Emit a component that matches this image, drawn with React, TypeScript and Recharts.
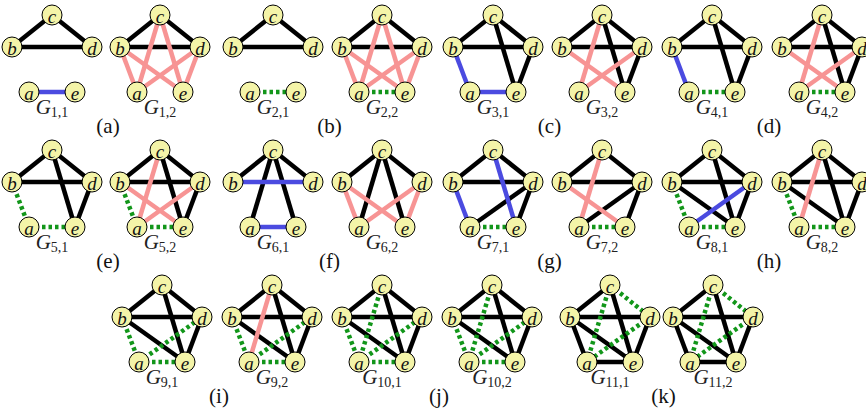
import { ScatterChart, Scatter, XAxis, YAxis } from "recharts";

// graph names, in reading order
const graphIds = [
  "1,1", "1,2", "2,1", "2,2", "3,1", "3,2", "4,1", "4,2",
  "5,1", "5,2", "6,1", "6,2", "7,1", "7,2", "8,1", "8,2",
  "9,1", "9,2", "10,1", "10,2", "11,1", "11,2",
];

const captions = ["(a)", "(b)", "(c)", "(d)", "(e)", "(f)", "(g)", "(h)", "(i)", "(j)", "(k)"];

const nodeNames = ["a", "b", "c", "d", "e"];

// edges per graph, by colour
const blackEdges = [
  "bc cd bd", "bc cd bd", "bc cd bd", "bc cd bd",
  "bc cd bd ce de", "bc cd bd ce de", "bc cd bd ce de", "bc cd bd ce de",
  "bc cd bd ce de", "bc cd bd ce de", "bc cd ca ce", "bc cd ca ce",
  "bc cd bd da de", "bc cd bd da de", "bc cd bd ce be de", "bc cd bd ce be de",
  "bc cd bd ce be de", "bc cd bd ce be de", "bc cd bd ce be de", "bc cd bd ce be de",
  "bc bd ba be ce de ae", "bc bd ba be ce de ae",
];

const blueEdges = [
  "ae", "", "", "", "ba ae", "", "ba", "",
  "", "", "bd ae", "", "ba ce", "", "ad", "",
  "", "", "", "", "", "",
];

const pinkEdges = [
  "", "ba be ca ce da de", "", "ba be ca ce da de", "", "ca be da", "", "ca be da",
  "", "ca be da", "", "ba be da de", "", "ca be", "", "ca",
  "", "ca", "", "", "", "",
];

const greenEdges = [
  "", "", "ae", "ae", "", "", "ae", "ae",
  "ba ae", "ba ae", "", "", "ae", "ae", "ba ae", "ba ae",
  "ba ae ad", "ba ae ad", "ca ba ad ae", "ca ba ad ae", "ca cd da", "ca cd da",
];

// layout
const rowTop = [15, 150, 285];
const pairCols = [
  [[52, 160], [273, 382], [493, 602], [712, 822]],
  [[52, 160], [273, 382], [493, 602], [712, 822]],
  [[162, 272], [382, 492], [610, 713]],
];
const nodeOffset: Record<string, [number, number]> = {
  a: [-23, 77],
  b: [-40, 32],
  c: [0, 0],
  d: [40, 32],
  e: [23, 77],
};

const FONT = "'Liberation Serif', 'DejaVu Serif', serif";

type Pos = { x: number; y: number };

const graphOrigins: Pos[] = [];
const captionPoints: { x: number; y: number; text: string }[] = [];
let pairIdx = 0;
pairCols.forEach((row, r) => {
  row.forEach((pair) => {
    pair.forEach((cx) => graphOrigins.push({ x: cx, y: rowTop[r] }));
    captionPoints.push({ x: (pair[0] + pair[1]) / 2 + 2, y: rowTop[r] + 111, text: captions[pairIdx] });
    pairIdx++;
  });
});

const nodePos = (g: number, n: string): Pos => ({
  x: graphOrigins[g].x + nodeOffset[n][0],
  y: graphOrigins[g].y + nodeOffset[n][1],
});

const nodePoints = graphIds.flatMap((_, g) =>
  nodeNames.map((n) => ({ ...nodePos(g, n), name: n }))
);

const labelPoints = graphIds.map((id, g) => ({
  x: graphOrigins[g].x,
  y: graphOrigins[g].y + 92,
  id,
}));

const edgeStyles = [
  { list: blackEdges, stroke: "#000000", dash: undefined as string | undefined },
  { list: pinkEdges, stroke: "#f79494", dash: undefined },
  { list: blueEdges, stroke: "#4b4be0", dash: undefined },
  { list: greenEdges, stroke: "#12961a", dash: "3.5 3" },
];

const edgeSeries = edgeStyles.flatMap((st, si) =>
  st.list.flatMap((s, g) =>
    s
      .split(" ")
      .filter((e) => e.length === 2)
      .map((e) => ({
        key: `e-${si}-${g}-${e}`,
        data: [nodePos(g, e[0]), nodePos(g, e[1])],
        stroke: st.stroke,
        dash: st.dash,
      }))
  )
);

const renderNode = (props: any) => {
  const { cx, cy, payload } = props;
  return (
    <g>
      <circle cx={cx} cy={cy} r={10} fill="#f4f4a8" stroke="#000" strokeWidth={1} />
      <text
        x={cx}
        y={cy + 1}
        textAnchor="middle"
        dominantBaseline="central"
        fontFamily={FONT}
        fontStyle="italic"
        fontSize={19}
        fill="#111"
      >
        {payload.name}
      </text>
    </g>
  );
};

const renderLabel = (props: any) => {
  const { cx, cy, payload } = props;
  return (
    <text x={cx} y={cy} textAnchor="middle" dominantBaseline="central" fontFamily={FONT} fill="#222">
      <tspan fontStyle="italic" fontSize={21}>G</tspan>
      <tspan fontSize={14} dy={5}>{payload.id}</tspan>
    </text>
  );
};

const renderCaption = (props: any) => {
  const { cx, cy, payload } = props;
  return (
    <text x={cx} y={cy} textAnchor="middle" dominantBaseline="central" fontFamily={FONT} fontSize={21} fill="#111">
      {payload.text}
    </text>
  );
};

const empty = () => <g />;

export default function App() {
  return (
    <div style={{ position: "absolute", left: 0, top: 0, background: "#fff" }}>
      <ScatterChart width={866} height={409} margin={{ top: 0, right: 0, bottom: 0, left: 0 }}>
        <XAxis type="number" dataKey="x" domain={[0, 866]} hide />
        <YAxis type="number" dataKey="y" domain={[0, 409]} reversed hide />
        {edgeSeries.map((e) => (
          <Scatter
            key={e.key}
            data={e.data}
            shape={empty}
            line={{ stroke: e.stroke, strokeWidth: 4.5, strokeDasharray: e.dash }}
            isAnimationActive={false}
          />
        ))}
        <Scatter data={nodePoints} shape={renderNode} isAnimationActive={false} />
        <Scatter data={labelPoints} shape={renderLabel} isAnimationActive={false} />
        <Scatter data={captionPoints} shape={renderCaption} isAnimationActive={false} />
      </ScatterChart>
    </div>
  );
}
